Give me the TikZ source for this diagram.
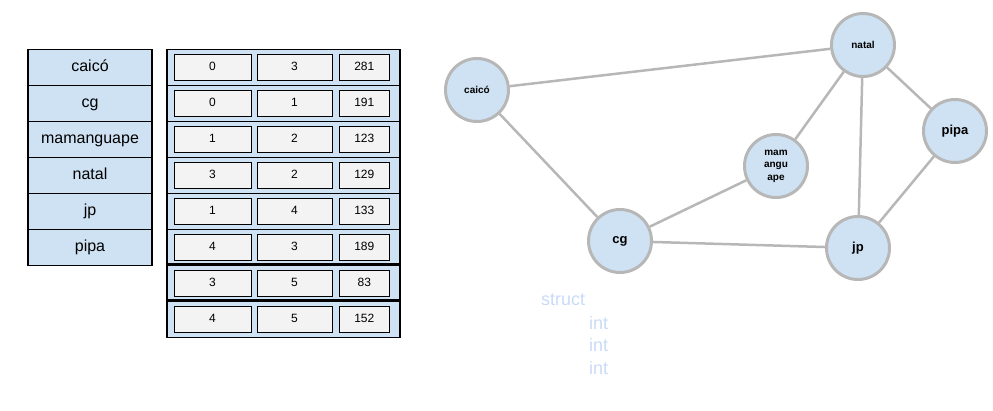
\documentclass[tikz,border=0pt]{standalone}
\usepackage{fontspec}
\setmainfont{Liberation Sans}
\usetikzlibrary{positioning}
\definecolor{cellblue}{HTML}{CFE2F3}
\definecolor{cellgray}{HTML}{F3F3F3}
\definecolor{edgegray}{HTML}{B7B7B7}
\definecolor{structblue}{HTML}{C9DAF8}

\begin{document}
\begin{tikzpicture}[x=1pt, y=-1pt,
        namebox/.style={draw, fill=cellblue, line width=1.2pt, minimum width=124pt, minimum height=36pt, inner sep=0pt, text height=11.6pt, text depth=3.4pt, font=\fontsize{16}{19}\selectfont},
        rowbox/.style={draw, fill=cellblue, line width=1.2pt, minimum width=233pt, minimum height=36pt, inner sep=0pt},
        cellbox/.style={draw, fill=cellgray, line width=1pt, minimum height=26pt, inner sep=0pt, text height=8.7pt, text depth=2.5pt, font=\fontsize{12}{14}\selectfont},
        city/.style={circle, draw=edgegray, fill=cellblue, line width=3pt, minimum size=63pt, inner sep=0pt, align=center, font=\bfseries\fontsize{10}{12.5}\selectfont},
        bigcity/.style={city, font=\bfseries\fontsize{13}{15}\selectfont},
        road/.style={draw=edgegray, line width=2.5pt},
        ghost/.style={anchor=west, inner sep=0pt, text=structblue, font=\fontsize{18}{21}\selectfont}]
            \useasboundingbox (0, 0) rectangle (993, 411);

            % vertex names
            \node [namebox] (n1) at (90, 67.3) {caicó};
            \node [namebox] (n2) at (90, 103.3) {cg};
            \node [namebox] (n3) at (90, 139.3) {mamanguape};
            \node [namebox] (n4) at (90, 175.3) {natal};
            \node [namebox] (n5) at (90, 211.3) {jp};
            \node [namebox] (n6) at (90, 247.3) {pipa};

            % edge list
            \node [rowbox] (r1) at (283.5, 67.3) {};
            \node [rowbox] (r2) at (283.5, 103.3) {};
            \node [rowbox] (r3) at (283.5, 139.3) {};
            \node [rowbox] (r4) at (283.5, 175.3) {};
            \node [rowbox] (r5) at (283.5, 211.3) {};
            \node [rowbox] (r6) at (283.5, 247.3) {};
            \node [rowbox] (r7) at (283.5, 283.3) {};
            \node [rowbox] (r8) at (283.5, 319.3) {};
            \draw [line width=2.6pt] (r7.north west) -- (r7.north east);
            \draw [line width=2.6pt] (r8.north west) -- (r8.north east);

            \node [cellbox, minimum width=77pt] (a1) at (212.5, 67.3) {0};
            \node [cellbox, minimum width=75pt] (b1) at (294.5, 67.3) {3};
            \node [cellbox, minimum width=50pt] (w1) at (364.3, 67.3) {281};
            \node [cellbox, minimum width=77pt] (a2) at (212.5, 103.3) {0};
            \node [cellbox, minimum width=75pt] (b2) at (294.5, 103.3) {1};
            \node [cellbox, minimum width=50pt] (w2) at (364.3, 103.3) {191};
            \node [cellbox, minimum width=77pt] (a3) at (212.5, 139.3) {1};
            \node [cellbox, minimum width=75pt] (b3) at (294.5, 139.3) {2};
            \node [cellbox, minimum width=50pt] (w3) at (364.3, 139.3) {123};
            \node [cellbox, minimum width=77pt] (a4) at (212.5, 175.3) {3};
            \node [cellbox, minimum width=75pt] (b4) at (294.5, 175.3) {2};
            \node [cellbox, minimum width=50pt] (w4) at (364.3, 175.3) {129};
            \node [cellbox, minimum width=77pt] (a5) at (212.5, 211.3) {1};
            \node [cellbox, minimum width=75pt] (b5) at (294.5, 211.3) {4};
            \node [cellbox, minimum width=50pt] (w5) at (364.3, 211.3) {133};
            \node [cellbox, minimum width=77pt] (a6) at (212.5, 247.3) {4};
            \node [cellbox, minimum width=75pt] (b6) at (294.5, 247.3) {3};
            \node [cellbox, minimum width=50pt] (w6) at (364.3, 247.3) {189};
            \node [cellbox, minimum width=77pt] (a7) at (212.5, 283.3) {3};
            \node [cellbox, minimum width=75pt] (b7) at (294.5, 283.3) {5};
            \node [cellbox, minimum width=50pt] (w7) at (364.3, 283.3) {83};
            \node [cellbox, minimum width=77pt] (a8) at (212.5, 319.3) {4};
            \node [cellbox, minimum width=75pt] (b8) at (294.5, 319.3) {5};
            \node [cellbox, minimum width=50pt] (w8) at (364.3, 319.3) {152};

            % graph
            \node [city] (caico) at (477, 90) {caicó};
            \node [city] (natal) at (863, 45) {natal};
            \node [city] (mamanguape) at (776, 166) {mam\\angu\\ape};
            \node [bigcity] (pipa) at (955, 131) {pipa};
            \node [bigcity] (cg) at (620, 241) {cg};
            \node [bigcity] (jp) at (858, 248) {jp};
            \draw [road] (caico) -- (natal);
            \draw [road] (caico) -- (cg);
            \draw [road] (natal) -- (mamanguape);
            \draw [road] (natal) -- (jp);
            \draw [road] (natal) -- (pipa);
            \draw [road] (mamanguape) -- (cg);
            \draw [road] (cg) -- (jp);
            \draw [road] (pipa) -- (jp);

            \node [ghost] (st) at (541, 300) {struct};
            \node [ghost] (i1) at (589, 323) {int};
            \node [ghost] (i2) at (589, 345.5) {int};
            \node [ghost] (i3) at (589, 368) {int};
        \end{tikzpicture}
\end{document}
